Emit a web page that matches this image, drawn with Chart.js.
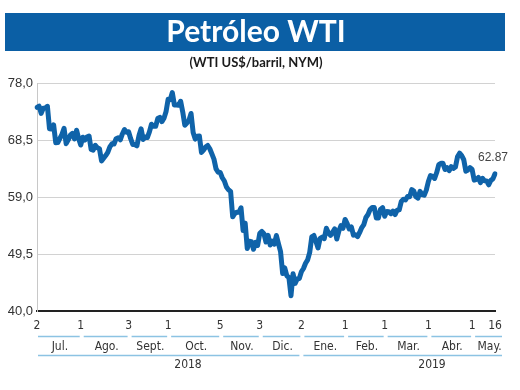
<!DOCTYPE html>
<html><head><meta charset="utf-8">
<script src="https://cdn.jsdelivr.net/npm/chart.js@4"></script>
<style>html,body{margin:0;padding:0;background:#fff;overflow:hidden}#wrap{width:520px;height:390px;position:relative}</style>
</head><body><div id="wrap"><canvas id="c" width="520" height="390"></canvas></div>
<script>
const title = 'Petróleo WTI';
const subtitle = '(WTI US$/barril, NYM)';
const dates = [
'2018-07-02','2018-07-03','2018-07-05','2018-07-06','2018-07-09','2018-07-10','2018-07-11','2018-07-12','2018-07-13','2018-07-16','2018-07-17','2018-07-18','2018-07-19','2018-07-20','2018-07-23','2018-07-24','2018-07-25','2018-07-26','2018-07-27','2018-07-30','2018-07-31',
'2018-08-01','2018-08-02','2018-08-03','2018-08-06','2018-08-07','2018-08-08','2018-08-09','2018-08-10','2018-08-13','2018-08-14','2018-08-15','2018-08-16','2018-08-17','2018-08-20','2018-08-21','2018-08-22','2018-08-23','2018-08-24','2018-08-27','2018-08-28','2018-08-29','2018-08-30','2018-08-31',
'2018-09-04','2018-09-05','2018-09-06','2018-09-07','2018-09-10','2018-09-11','2018-09-12','2018-09-13','2018-09-14','2018-09-17','2018-09-18','2018-09-19','2018-09-20','2018-09-21','2018-09-24','2018-09-25','2018-09-26','2018-09-27','2018-09-28',
'2018-10-01','2018-10-02','2018-10-03','2018-10-04','2018-10-05','2018-10-08','2018-10-09','2018-10-10','2018-10-11','2018-10-12','2018-10-15','2018-10-16','2018-10-17','2018-10-18','2018-10-19','2018-10-22','2018-10-23','2018-10-24','2018-10-25','2018-10-26','2018-10-29','2018-10-30','2018-10-31',
'2018-11-01','2018-11-02','2018-11-05','2018-11-06','2018-11-07','2018-11-08','2018-11-09','2018-11-12','2018-11-13','2018-11-14','2018-11-15','2018-11-16','2018-11-19','2018-11-20','2018-11-21','2018-11-23','2018-11-26','2018-11-27','2018-11-28','2018-11-29','2018-11-30',
'2018-12-03','2018-12-04','2018-12-05','2018-12-06','2018-12-07','2018-12-10','2018-12-11','2018-12-12','2018-12-13','2018-12-14','2018-12-17','2018-12-18','2018-12-19','2018-12-20','2018-12-21','2018-12-24','2018-12-26','2018-12-27','2018-12-28','2018-12-31',
'2019-01-02','2019-01-03','2019-01-04','2019-01-07','2019-01-08','2019-01-09','2019-01-10','2019-01-11','2019-01-14','2019-01-15','2019-01-16','2019-01-17','2019-01-18','2019-01-22','2019-01-23','2019-01-24','2019-01-25','2019-01-28','2019-01-29','2019-01-30','2019-01-31',
'2019-02-01','2019-02-04','2019-02-05','2019-02-06','2019-02-07','2019-02-08','2019-02-11','2019-02-12','2019-02-13','2019-02-14','2019-02-15','2019-02-19','2019-02-20','2019-02-21','2019-02-22','2019-02-25','2019-02-26','2019-02-27','2019-02-28',
'2019-03-01','2019-03-04','2019-03-05','2019-03-06','2019-03-07','2019-03-08','2019-03-11','2019-03-12','2019-03-13','2019-03-14','2019-03-15','2019-03-18','2019-03-19','2019-03-20','2019-03-21','2019-03-22','2019-03-25','2019-03-26','2019-03-27','2019-03-28','2019-03-29',
'2019-04-01','2019-04-02','2019-04-03','2019-04-04','2019-04-05','2019-04-08','2019-04-09','2019-04-10','2019-04-11','2019-04-12','2019-04-15','2019-04-16','2019-04-17','2019-04-18','2019-04-22','2019-04-23','2019-04-24','2019-04-25','2019-04-26','2019-04-29','2019-04-30',
'2019-05-01','2019-05-02','2019-05-03','2019-05-06','2019-05-07','2019-05-08','2019-05-09','2019-05-10','2019-05-13','2019-05-14','2019-05-15','2019-05-16'
];
const prices = [
73.94,74.14,72.94,73.80,73.85,74.11,70.38,70.33,71.01,68.06,68.08,68.76,69.46,70.46,67.89,68.52,69.30,69.61,68.69,70.13,68.76,
67.66,68.96,68.49,69.01,69.17,66.94,66.81,67.63,67.20,67.04,65.01,65.46,65.91,66.43,67.35,67.86,67.83,68.72,68.87,68.53,69.51,70.25,69.80,
69.87,68.72,67.77,67.75,67.54,69.25,70.37,68.59,68.99,68.91,69.85,71.12,70.80,70.78,72.08,72.28,71.57,72.12,73.25,
75.30,75.23,76.41,74.33,74.34,74.29,74.96,73.17,70.97,71.34,71.78,72.92,69.75,68.65,69.12,69.17,66.43,66.82,67.33,67.59,67.04,66.18,65.31,
63.69,63.14,63.10,62.21,61.67,60.67,60.19,59.93,55.69,56.25,56.46,56.46,57.20,53.43,54.63,50.42,51.63,51.56,50.29,51.45,50.93,
52.95,53.25,52.89,51.49,52.61,51.00,51.65,51.15,52.58,51.20,49.88,46.24,47.20,45.88,45.59,42.53,46.22,44.61,45.33,45.41,
46.54,47.09,47.96,48.52,49.78,52.36,52.59,51.59,50.51,52.11,52.31,52.07,53.80,53.01,52.62,53.13,53.69,51.99,53.31,54.23,53.79,
55.26,54.56,53.66,54.01,52.64,52.72,52.41,53.10,53.90,54.41,55.59,56.09,56.92,57.26,57.26,55.48,55.50,56.94,57.22,
55.80,56.59,56.56,56.22,56.66,56.07,56.79,56.87,58.26,58.61,58.52,59.09,59.03,60.23,59.98,59.04,58.82,59.94,59.41,59.30,60.14,
61.59,62.58,62.46,62.10,63.08,64.40,64.61,64.61,63.58,63.89,63.40,64.05,63.76,64.00,65.70,66.30,65.89,65.21,63.30,63.50,63.91,
63.60,61.81,61.94,62.25,61.40,62.12,61.70,61.66,61.04,61.78,62.02,62.87
];
const yTicks = [40.0, 49.5, 59.0, 68.5, 78.0];
const tickDates = ['2018-07-02','2018-08-01','2018-09-03','2018-10-01','2018-11-05','2018-12-03','2019-01-02','2019-02-01','2019-03-01','2019-04-01','2019-05-01','2019-05-16'];
const months = ['Jul.','Ago.','Sept.','Oct.','Nov.','Dic.','Ene.','Feb.','Mar.','Abr.','May.'];
const years = ['2018','2019'];
const yearStartMonth = [0, 6];
const lastLabel = '62.87';

const tickIdx = tickDates.map(d => dates.findIndex(x => x >= d));
const tickLabels = tickDates.map(d => String(parseInt(d.slice(8), 10)));

const NARROW = '"Liberation Sans Narrow", "DejaVu Sans Condensed", "Roboto Condensed", sans-serif';
const BLUE = '#0b5fa5';
const LIGHT = '#8cc3e3';

const deco = {
  id: 'deco',
  beforeDraw(chart) {
    const ctx = chart.ctx;
    ctx.save();
    ctx.fillStyle = '#fff';
    ctx.fillRect(0, 0, chart.width, chart.height);
    ctx.fillStyle = BLUE;
    ctx.fillRect(5, 13, 500, 38);
    ctx.fillStyle = '#fff';
    ctx.textAlign = 'center';
    ctx.textBaseline = 'middle';
    ctx.font = 'bold 30px Lato, "Open Sans", sans-serif';
    ctx.fillText(title, 256, 32);
    ctx.fillStyle = '#1a1a1a';
    ctx.font = 'bold 13px Lato, "Open Sans", sans-serif';
    ctx.fillText(subtitle, 256, 63);
    ctx.restore();
  },
  afterDraw(chart) {
    const ctx = chart.ctx;
    const xs = chart.scales.x;
    const px = tickIdx.map(i => xs.getPixelForValue(i));
    const rightEnd = px[px.length - 1] + 7;
    ctx.save();
    ctx.strokeStyle = LIGHT;
    ctx.lineWidth = 1.5;
    ctx.fillStyle = '#333';
    ctx.font = '12px ' + NARROW;
    ctx.textAlign = 'center';
    ctx.textBaseline = 'middle';
    months.forEach((m, k) => {
      const s = px[k] + (k === 0 ? 1 : 3);
      const e = k < months.length - 1 ? px[k + 1] - 1 : rightEnd;
      ctx.beginPath(); ctx.moveTo(s, 336.5); ctx.lineTo(e, 336.5); ctx.stroke();
      ctx.fillText(m, (s + e) / 2 + 1, 347);
    });
    const yearLabelX = [188, 432];
    years.forEach((y, k) => {
      const s = px[yearStartMonth[k]] + (k === 0 ? 1 : 2);
      const e = k < years.length - 1 ? px[yearStartMonth[k + 1]] - 2 : rightEnd;
      ctx.beginPath(); ctx.moveTo(s, 355.5); ctx.lineTo(e, 355.5); ctx.stroke();
      ctx.fillText(y, yearLabelX[k], 365);
    });
    const meta = chart.getDatasetMeta(0);
    const last = meta.data[meta.data.length - 1];
    ctx.fillStyle = '#444';
    ctx.font = '12px "Liberation Sans", Arial, sans-serif';
    ctx.fillText(lastLabel, last.x - 2, last.y - 16);
    ctx.restore();
  }
};

new Chart(document.getElementById('c'), {
  type: 'line',
  data: {
    labels: dates,
    datasets: [{
      data: prices,
      borderColor: '#0f63a9',
      borderWidth: 5,
      pointRadius: 0,
      tension: 0,
      borderJoinStyle: 'round',
      borderCapStyle: 'round',
      fill: false
    }]
  },
  options: {
    responsive: false,
    animation: false,
    plugins: { legend: { display: false }, tooltip: { enabled: false }, title: { display: false } },
    layout: { padding: { top: 83, right: 25, left: 0, bottom: 0 } },
    scales: {
      x: {
        type: 'category',
        offset: false,
        grid: { display: false, drawTicks: false },
        border: { display: true, color: '#222', width: 2 },
        afterBuildTicks: s => { s.ticks = tickIdx.map(i => ({ value: i })); },
        afterFit: s => { s.height = 79; },
        ticks: {
          autoSkip: false, maxRotation: 0, minRotation: 0, padding: 8,
          color: '#333', font: { family: NARROW, size: 12 },
          callback: (v) => { const k = tickIdx.indexOf(v); return k >= 0 ? tickLabels[k] : ''; }
        }
      },
      y: {
        min: 40, max: 78,
        afterBuildTicks: s => { s.ticks = yTicks.map(v => ({ value: v })); },
        afterFit: s => { s.width = 37; },
        grid: { color: '#d2d2d2', lineWidth: 1, drawTicks: false },
        border: { display: true, color: '#c8c8c8', width: 1 },
        ticks: {
          padding: 4, color: '#333', font: { family: '"Liberation Sans", Arial, sans-serif', size: 13 },
          callback: v => v.toFixed(1).replace('.', ',')
        }
      }
    }
  },
  plugins: [deco]
});
</script>
</body></html>
